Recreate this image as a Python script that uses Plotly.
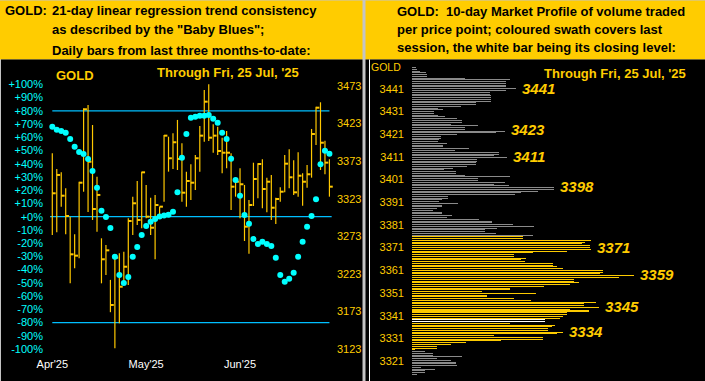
import plotly.graph_objects as go

W, H = 705, 381

# ---------------- Left chart data (daily bars, last three months to 25 Jul 2025) ----------------
highs = [3383.4, 3362.5, 3358.2, 3336.9, 3299.1, 3275.6, 3345.6, 3443.3, 3447.7, 3421.1,
         3352.3, 3270.3, 3261.4, 3215.0, 3248.1, 3250.4, 3252.5, 3296.9, 3325.7, 3346.6,
         3359.0, 3341.3, 3324.4, 3328.0, 3312.4, 3407.8, 3405.5, 3410.0, 3427.8, 3396.7,
         3359.0, 3368.8, 3381.2, 3419.8, 3467.7, 3475.3, 3422.0, 3418.8, 3404.2, 3413.1,
         3383.4, 3351.0, 3363.5, 3341.3, 3321.3, 3370.9, 3370.1, 3375.5, 3351.0, 3354.6,
         3324.4, 3338.2, 3381.2, 3388.8, 3374.1, 3384.8, 3356.8, 3367.9, 3415.8, 3445.4,
         3451.3, 3400.2, 3375.5]
lows = [3274.7, 3278.3, 3312.4, 3275.6, 3210.4, 3230.4, 3243.7, 3332.3, 3305.3, 3294.7,
        3279.1, 3210.4, 3221.5, 3172.0, 3123.9, 3157.2, 3210.4, 3208.2, 3274.7, 3288.0,
        3283.6, 3296.9, 3274.7, 3242.4, 3296.9, 3319.0, 3359.0, 3362.5, 3361.2, 3319.0,
        3312.4, 3321.3, 3334.6, 3359.0, 3398.9, 3399.8, 3384.2, 3381.2, 3356.8, 3363.5,
        3308.0, 3325.7, 3296.9, 3266.7, 3249.8, 3313.3, 3323.6, 3310.2, 3304.9, 3294.7,
        3289.3, 3319.0, 3331.5, 3336.9, 3328.0, 3325.7, 3313.7, 3337.7, 3351.0, 3394.5,
        3361.2, 3355.5, 3325.7]
closes = [3330.2, 3354.6, 3327.0, 3300.0, 3249.0, 3247.2, 3344.3, 3442.0, 3372.2, 3309.3,
          3328.0, 3242.4, 3254.3, 3181.6, 3244.5, 3205.9, 3232.5, 3293.3, 3316.9, 3294.7,
          3358.1, 3299.1, 3284.4, 3314.6, 3312.4, 3406.9, 3376.8, 3398.1, 3375.9, 3331.0,
          3346.6, 3344.3, 3376.8, 3406.9, 3452.1, 3404.2, 3406.9, 3386.5, 3384.2, 3384.2,
          3339.0, 3345.6, 3342.2, 3285.8, 3314.6, 3349.2, 3369.2, 3335.9, 3345.6, 3311.0,
          3322.6, 3332.3, 3369.6, 3351.5, 3331.5, 3353.6, 3345.6, 3355.5, 3409.1, 3444.1,
          3397.5, 3371.0, 3339.0]
baby_blues = [68.0, 65.7, 64.8, 63.5, 58.7, 52.9, 48.9, 47.4, 43.6, 34.5,
              21.9, 4.5, -0.2, -8.5, -30.2, -44.0, -50.1, -45.6, -30.2, -22.9,
              -13.8, -7.0, -3.8, -1.7, 0.1, 1.0, 1.5, 3.8, 18.4, 44.6,
              62.5, 74.8, 75.6, 76.3, 76.3, 76.8, 74.0, 71.0, 63.5, 58.7,
              43.8, 27.7, 15.9, 1.3, -5.3, -16.8, -20.6, -18.9, -20.6, -22.1,
              -31.0, -44.0, -49.1, -46.8, -42.3, -30.2, -18.9, -7.6, 0.5, 13.1,
              39.6, 49.9, 47.6]
pct_ticks = list(range(-100, 101, 10))
pct_labels = [("+%d%%" % v) if v >= 0 else ("%d%%" % v) for v in pct_ticks]
price_ticks = [3123, 3173, 3223, 3273, 3323, 3373, 3423, 3473]
month_labels = ["Apr'25", "May'25", "Jun'25"]
month_bar_index = [0, 21, 42]
band_levels = [80, 0, -80]

# ---------------- Right chart data (10-day market profile) ----------------
profile_top = 3450.3
profile_step = 0.777
profile_volume = [4, 5, 8, 14, 15, 15, 53, 98, 94, 94,
                  94, 94, 104, 94, 78, 78, 79, 79, 79, 79,
                  64, 64, 49, 26, 31, 22, 22, 26, 33, 45,
                  50, 50, 39, 66, 53, 53, 93, 84, 45, 29,
                  29, 27, 26, 35, 31, 31, 57, 43, 87, 87,
                  82, 95, 65, 65, 64, 64, 55, 41, 32, 44,
                  44, 53, 98, 66, 66, 93, 82, 97, 142, 142,
                  126, 109, 103, 36, 36, 30, 27, 46, 30, 30,
                  25, 21, 30, 30, 40, 35, 67, 80, 80,
                  101, 122, 85, 73, 73, 84, 121, 111, 111, 179,
                  173, 170, 178, 178, 179, 155, 121, 102, 102, 114,
                  109, 113, 141, 141, 145, 151, 191, 191, 188, 222,
                  207, 162, 162, 167, 158, 132, 98, 98, 70, 124,
                  75, 75, 102, 119, 184, 172, 172, 187, 158, 177,
                  155, 155, 151, 148, 133, 133, 98, 143, 140, 136,
                  136, 151, 145, 82, 131, 131, 89, 54, 39, 25,
                  25, 3, 13, 21, 21, 50, 25, 39, 44, 44,
                  45, 9, 23, 13, 13, 5]
session_high, session_low, session_close = 3375.5, 3325.7, 3339.0
profile_ticks = list(range(3321, 3442, 10))
node_labels = [3441, 3423, 3411, 3398, 3371, 3359, 3345, 3334]

header_left = ["21-day linear regression trend consistency",
               'as described by the "Baby Blues";',
               "Daily bars from last three months-to-date:"]
header_right = ["GOLD:\u00a0 10-day Market Profile of volume traded",
                "per price point; coloured swath covers last",
                "session, the white bar being its closing level:"]
through_text = "Through Fri, 25 Jul, '25"

# ---------------- styling ----------------
FONT = "Liberation Sans, Arial, sans-serif"
YELLOW = "#FFCC00"
BARGOLD = "#FFC800"
CYAN = "#00FFFF"
LINEBLUE = "#00BFFF"
PROF_GOLD = "rgba(255,204,0,0.99)"
PROF_GRAY = "rgba(140,140,140,0.99)"
PROF_WHITE = "rgba(255,255,255,0.99)"


def PX(px):
    return px / W


def PY(py):
    return 1 - py / H


fig = go.Figure()

# OHLC-style bars (high-low line + close tick on the right)
n = len(closes)
vx, vy, tx, ty = [], [], [], []
for i in range(n):
    vx += [i, i, None]
    vy += [lows[i], highs[i], None]
    tx += [i, i + 0.75, None]
    ty += [closes[i], closes[i], None]

fig.add_trace(go.Scatter(x=vx, y=vy, mode="lines", line=dict(color=BARGOLD, width=1.2),
                         xaxis="x", yaxis="y", hoverinfo="skip", showlegend=False))
fig.add_trace(go.Scatter(x=tx, y=ty, mode="lines", line=dict(color=BARGOLD, width=2),
                         xaxis="x", yaxis="y", hoverinfo="skip", showlegend=False))
# Baby Blues
fig.add_trace(go.Scatter(x=list(range(n)), y=baby_blues, mode="markers",
                         marker=dict(color=CYAN, size=6, line=dict(width=0)),
                         xaxis="x", yaxis="y2", hoverinfo="skip", showlegend=False))

# Market profile
prices = [profile_top - k * profile_step for k in range(len(profile_volume))]
colors = []
for p in prices:
    if abs(p - session_close) < 0.7:
        colors.append(PROF_WHITE)
    elif session_low - 0.4 <= p <= session_high + 0.4:
        colors.append(PROF_GOLD)
    else:
        colors.append(PROF_GRAY)
fig.add_trace(go.Bar(x=profile_volume, y=prices, orientation="h", width=0.445,
                     marker=dict(color=colors, line=dict(width=0)),
                     xaxis="x2", yaxis="y3", hoverinfo="skip", showlegend=False))

shapes = [
    dict(type="rect", xref="paper", yref="paper", x0=PX(0), x1=PX(362.5), y0=PY(59.5), y1=PY(0.5),
         fillcolor=YELLOW, line=dict(width=0), layer="below"),
    dict(type="rect", xref="paper", yref="paper", x0=PX(1), x1=PX(362.5), y0=PY(381), y1=PY(59.5),
         fillcolor="black", line=dict(width=0), layer="below"),
    dict(type="rect", xref="paper", yref="paper", x0=PX(365.5), x1=PX(705), y0=PY(59.5), y1=PY(0.5),
         fillcolor=YELLOW, line=dict(width=0), layer="below"),
    dict(type="rect", xref="paper", yref="paper", x0=PX(365.5), x1=PX(705), y0=PY(381), y1=PY(59.5),
         fillcolor="black", line=dict(width=0), layer="below"),
    dict(type="line", xref="paper", yref="paper", x0=PX(369.5), x1=PX(369.5), y0=PY(381), y1=PY(59.5),
         line=dict(color="white", width=1), layer="below"),
]
for lv in band_levels:
    x0, x1 = (-0.5, n - 0.5) if lv == 0 else (0, n - 1)
    shapes.append(dict(type="line", xref="x", yref="y2", x0=x0, x1=x1, y0=lv, y1=lv,
                       line=dict(color=LINEBLUE, width=1.3), layer="below"))

ann = []


def text(x, y, s, size=13, color="black", anchor="left", bold=True):
    ann.append(dict(xref="paper", yref="paper", x=PX(x), y=PY(y), text=("<b>%s</b>" % s) if bold else s,
                    showarrow=False, xanchor=anchor, yanchor="middle",
                    font=dict(family=FONT, size=size, color=color)))


text(3, 10, "GOLD:")
for k, s in enumerate(header_left):
    text(50, 10 + 20 * k, s)
for k, s in enumerate(header_right):
    text(395, 11.5 + 18 * k, s)
text(54, 75.5, "GOLD", size=13, color=YELLOW)
text(155, 73, through_text, size=13, color=YELLOW)
text(542, 73.3, through_text, size=13, color=YELLOW)
text(403, 66.5, "GOLD", size=10.5, color=YELLOW, anchor="right", bold=False)

for v in node_labels:
    peak = max(vol for p, vol in zip(prices, profile_volume) if abs(p - v) <= 2.0)
    ann.append(dict(xref="x2", yref="y3", x=peak, y=v, text="<b><i>%d</i></b>" % v,
                    showarrow=False, xanchor="left", yanchor="middle", xshift=4,
                    font=dict(family=FONT, size=15, color=YELLOW)))

fig.update_layout(
    width=W, height=H, margin=dict(l=0, r=0, t=0, b=0, pad=0, autoexpand=False),
    paper_bgcolor="#C4C4C4", plot_bgcolor="rgba(0,0,0,0)",
    shapes=shapes, annotations=ann, showlegend=False, bargap=0,
    xaxis=dict(domain=[PX(44), PX(336)], range=[-1.857, 63.47], anchor="y",
               tickvals=month_bar_index, ticktext=month_labels, ticks="", automargin=False,
               tickfont=dict(family=FONT, size=11, color="white"),
               showgrid=False, zeroline=False, showline=False, fixedrange=True),
    yaxis=dict(domain=[PY(356), PY(62)], range=[3113.7, 3504.9], side="right", anchor="x",
               tickvals=price_ticks, ticks="", automargin=False,
               tickfont=dict(family=FONT, size=11, color=YELLOW),
               showgrid=False, zeroline=False, showline=False),
    yaxis2=dict(overlaying="y", side="left", anchor="x", range=[-105.25, 116.89],
                tickvals=pct_ticks, ticktext=pct_labels, ticks="", automargin=False,
                tickfont=dict(family=FONT, size=11, color=CYAN),
                showgrid=False, zeroline=False, showline=False),
    xaxis2=dict(domain=[PX(412), 1], range=[0, 293], anchor="y3", visible=False, automargin=False),
    yaxis3=dict(domain=[PY(378), PY(62)], range=[3313.56, 3452.76], anchor="free",
                position=PX(404), side="left", tickvals=profile_ticks, ticks="", automargin=False,
                tickfont=dict(family=FONT, size=11, color=YELLOW),
                showgrid=False, zeroline=False, showline=False),
)

fig.write_html("out.html", config={"displayModeBar": False},
               post_script="document.body.style.margin='0px';")
